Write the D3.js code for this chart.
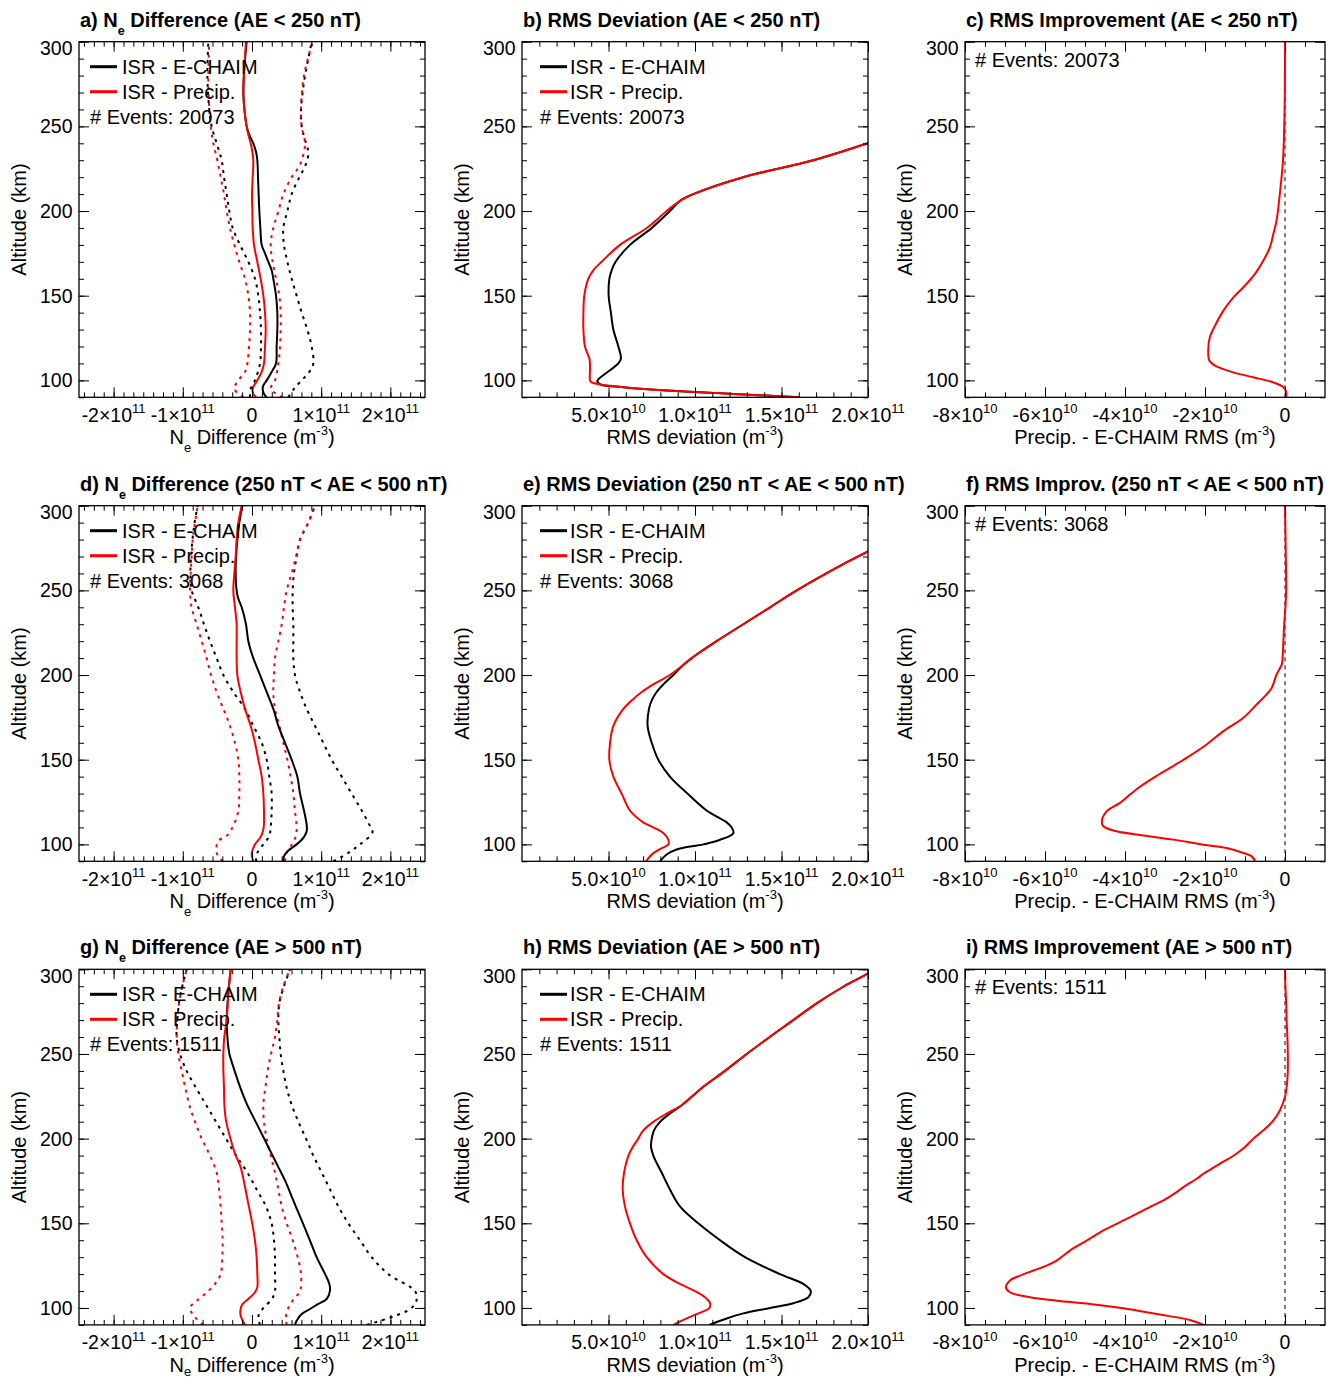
<!DOCTYPE html>
<html><head><meta charset="utf-8">
<script src="https://cdn.jsdelivr.net/npm/d3@7"></script>
<style>
body{margin:0;background:#fff}
svg{display:block}
text{font-family:"Liberation Sans",Arial,Helvetica,sans-serif;fill:#000}
</style>
</head><body>
<svg id="chart" width="1338" height="1380"></svg>
<script>
// ---------------- DATA (values in units of 1e10 m^-3; altitude in km) ----------------
const ALT_MAJOR = [100,150,200,250,300];
const ALT_MINOR = d3.range(90, 301, 10);
const DIFF_TICKS = [-20,-10,0,10,20];
const DIFF_TICK_LABELS = [["-2×10","11"],["-1×10","11"],["0",""],["1×10","11"],["2×10","11"]];
const RMS_TICKS = [5,10,15,20];
const RMS_TICK_LABELS = [["5.0×10","10"],["1.0×10","11"],["1.5×10","11"],["2.0×10","11"]];
const IMP_TICKS = [-8,-6,-4,-2,0];
const IMP_TICK_LABELS = [["-8×10","10"],["-6×10","10"],["-4×10","10"],["-2×10","10"],["0",""]];
const EVENTS = ["20073","3068","1511"];

// Panel a: Ne difference, AE < 250 nT
const aEchaim = [[90,2.12],[92,1.73],[95,1.54],[97,1.64],[100,2.12],[105,2.84],[110,3.47],[120,3.56],[130,3.66],[140,3.66],[150,3.47],[160,3.08],[165,2.84],[170,2.36],[175,1.88],[180,1.40],[190,1.21],[200,1.06],[210,0.96],[220,0.87],[230,0.77],[235,0.58],[240,0.19],[245,-0.39],[250,-0.77],[260,-1.1],[270,-1.25],[285,-1.1],[300,-0.77]];
const aPrecip = [[90,0.58],[92,0.19],[95,0.10],[97,0.29],[100,0.77],[105,1.40],[110,1.73],[120,1.88],[130,1.98],[140,1.88],[150,1.64],[160,1.25],[170,0.77],[180,0.29],[190,0.10],[200,0.05],[210,0.0],[220,0.10],[230,0.19],[235,0.05],[240,-0.19],[245,-0.53],[250,-0.77],[260,-1.1],[270,-1.25],[285,-1.1],[300,-0.87]];
const aEchaimLo = [[90,-0.29],[95,-0.19],[100,0.43],[110,1.16],[120,1.30],[130,1.30],[140,1.16],[150,0.92],[160,0.43],[170,-0.53],[180,-1.73],[190,-2.79],[200,-3.28],[210,-3.66],[220,-4.05],[230,-4.38],[240,-5.11],[250,-5.83],[260,-6.17],[280,-6.45],[300,-6.31]];
const aEchaimHi = [[90,5.25],[95,6.07],[100,7.18],[105,8.29],[110,8.86],[120,8.62],[130,7.99],[140,7.18],[150,6.45],[160,5.73],[170,5.11],[180,4.62],[190,4.53],[200,5.11],[210,5.73],[220,6.84],[225,7.51],[230,7.99],[235,8.14],[240,7.80],[250,7.18],[260,7.08],[270,7.32],[280,7.66],[290,8.14],[300,8.62]];
const aPrecipLo = [[90,-1.25],[95,-2.55],[100,-1.97],[105,-1.01],[110,-0.67],[120,-0.43],[130,-0.29],[140,-0.29],[150,-0.53],[160,-1.01],[170,-1.83],[180,-2.55],[190,-3.18],[200,-3.66],[210,-4.05],[220,-4.53],[230,-5.01],[240,-5.59],[250,-5.97],[260,-6.17],[280,-6.31],[300,-6.17]];
const aPrecipHi = [[90,4.43],[95,2.70],[100,3.32],[110,3.81],[120,4.05],[130,4.14],[140,4.14],[150,3.95],[160,3.47],[170,2.99],[180,2.70],[190,3.08],[200,3.81],[210,4.53],[220,5.73],[225,6.6],[230,7.18],[240,7.66],[250,7.18],[260,7.08],[280,7.51],[300,8.77]];

// Panel b: RMS deviation, AE < 250 nT
const bEchaim = [[90,16.07],[91,14.14],[92.5,11.25],[94,8.36],[96,5.86],[97.5,4.55],[99.5,4.35],[101,4.45],[106,5.09],[110,5.57],[113,5.72],[120,5.57],[130,5.28],[140,5.14],[150,5.01],[160,5.05],[165,5.18],[170,5.41],[180,6.24],[190,7.50],[200,8.55],[206,9.13],[210,9.90],[220,12.79],[230,16.84],[240,20.0],[245,21.6]];
const bPrecip = [[90,16.07],[91,14.14],[92.5,11.25],[94,8.36],[96,5.86],[97.5,4.55],[99,4.0],[100,3.93],[106,3.93],[110,3.93],[113,3.89],[120,3.64],[130,3.55],[140,3.55],[150,3.60],[160,3.83],[165,4.12],[170,4.60],[180,5.66],[190,7.21],[200,8.36],[206,9.13],[210,9.90],[220,12.79],[230,16.84],[240,20.0],[245,21.6]];

// Panel c: RMS improvement, AE < 250 nT
const cImprove = [[90,0.03],[93,0.03],[96,-0.04],[98.8,-0.29],[101.8,-0.79],[104.7,-1.29],[108.7,-1.75],[111.6,-1.89],[117.5,-1.92],[125.4,-1.88],[132.3,-1.75],[141.2,-1.54],[149,-1.29],[155,-1.04],[162.9,-0.75],[170.8,-0.54],[178.7,-0.375],[186.6,-0.29],[194.5,-0.21],[210,-0.13],[230,-0.05],[260,-0.01],[300,0]];

// Panel d: Ne difference, 250 < AE < 500 nT
const dEchaim = [[90,4.53],[93,4.62],[96.4,5.25],[100,6.45],[103.8,7.42],[107.7,7.90],[111.6,7.90],[120,7.51],[130,6.94],[140,6.55],[150,5.73],[160,4.77],[170,3.81],[180,3.08],[190,2.12],[200,1.16],[210,0.19],[220,-0.53],[230,-0.87],[240,-1.49],[245,-1.97],[250,-2.22],[260,-2.36],[270,-2.31],[280,-2.12],[290,-1.83],[300,-1.40]];
const dPrecip = [[90,0.19],[94,-0.05],[97,0.10],[100,0.43],[104,1.2],[108,1.6],[112,1.73],[120,1.73],[130,1.64],[140,1.40],[150,0.92],[160,0.43],[170,-0.19],[180,-1.01],[190,-1.64],[200,-2.12],[210,-2.22],[220,-2.22],[230,-2.22],[240,-2.46],[250,-2.70],[260,-2.55],[270,-2.36],[280,-2.22],[290,-1.97],[300,-1.49]];
const dEchaimLo = [[90,0.58],[95,0.77],[100,1.64],[105,2.50],[110,2.70],[120,2.84],[130,2.84],[140,2.50],[150,2.12],[160,1.40],[170,0.19],[180,-1.01],[190,-2.70],[200,-4.14],[210,-5.11],[220,-6.07],[230,-6.94],[240,-7.76],[250,-8.72],[260,-8.9],[270,-8.8],[280,-8.6],[290,-8.3],[300,-7.85]];
const dEchaimHi = [[90,11.75],[95,13.92],[100,15.61],[107,17.4],[110,17.15],[120,15.85],[130,14.40],[140,12.96],[150,11.51],[160,10.3],[170,9.10],[180,7.90],[190,6.94],[200,6.21],[210,5.97],[220,5.97],[230,5.97],[240,5.88],[250,5.88],[260,6.07],[270,6.45],[280,6.94],[290,8.14],[300,9.10]];
const dPrecipLo = [[90,-4.24],[95,-5.11],[102,-4.87],[105,-3.66],[111,-2.70],[120,-1.97],[130,-1.83],[140,-1.83],[150,-1.97],[160,-2.46],[170,-3.18],[180,-4.14],[190,-5.11],[200,-5.92],[210,-6.55],[220,-7.27],[230,-8.0],[240,-8.72],[250,-8.96],[260,-8.86],[270,-8.72],[280,-8.57],[290,-8.24],[300,-7.85]];
const dPrecipHi = [[90,4.77],[95,5.01],[100,5.73],[105,6.36],[110,6.45],[120,6.21],[130,5.97],[140,5.59],[150,5.11],[160,4.53],[170,3.95],[180,3.32],[190,3.08],[200,3.18],[210,3.32],[220,3.81],[230,4.29],[240,4.62],[250,5.01],[260,5.73],[270,6.36],[280,6.94],[290,8.14],[300,9.10]];

// Panel e: RMS deviation, 250 < AE < 500 nT
const eEchaim = [[90,7.98],[94,8.36],[97,8.94],[100,10.48],[102.7,11.45],[106.7,12.22],[110,12.12],[113,11.83],[120,10.67],[130,9.56],[140,8.55],[150,7.88],[160,7.50],[170,7.26],[180,7.34],[185,7.50],[190,7.78],[194.5,8.17],[200,8.75],[206,9.33],[210,9.81],[220,11.25],[230,12.79],[240,14.34],[250,15.88],[265.5,18.57],[273,20.0],[280,21.3]];
const ePrecip = [[90,7.17],[94,7.50],[97,7.94],[100,8.46],[102.7,8.46],[106.7,8.17],[110,7.59],[113,7.01],[120,6.24],[130,5.76],[140,5.28],[150,5.05],[160,5.09],[170,5.28],[180,5.86],[185,6.34],[190,6.92],[194.5,7.59],[200,8.55],[206,9.33],[210,9.81],[220,11.25],[230,12.79],[240,14.34],[250,15.88],[265.5,18.57],[273,20.0],[280,21.3]];

// Panel f: RMS improvement, 250 < AE < 500 nT
const fImprove = [[90,-0.75],[92.9,-0.83],[94.9,-1.04],[97.8,-1.46],[99.8,-2.04],[102.8,-2.79],[105.3,-3.54],[107.7,-4.21],[110.7,-4.54],[113.6,-4.58],[119.5,-4.46],[124.5,-4.125],[129.4,-3.875],[133.3,-3.67],[139.3,-3.29],[145.2,-2.875],[151.1,-2.46],[159,-1.96],[166.9,-1.54],[174.8,-1.04],[182.6,-0.71],[188.6,-0.46],[192.5,-0.33],[200.4,-0.21],[206.3,-0.08],[210.3,-0.06],[220,-0.04],[230,-0.02],[240,0.01],[250,0.03],[270,0.02],[300,0]];

// Panel g: Ne difference, AE > 500 nT
const gEchaim = [[90,6.21],[92.5,6.45],[96.4,7.18],[99.4,8.38],[102.4,9.59],[105.3,10.79],[110.3,11.27],[114.2,11.18],[120.1,10.55],[130,9.34],[139.8,8.38],[151.7,7.18],[163.5,5.97],[175.3,4.77],[183.2,3.81],[191.1,2.84],[201,1.64],[210.8,0.43],[220.7,-0.77],[230.6,-1.73],[242.4,-2.70],[250.3,-3.28],[260.2,-3.56],[270,-3.66],[285.8,-3.42],[300,-3.08]];
const gPrecip = [[90,-1.01],[95.5,-1.64],[99.4,-1.64],[102.4,-1.35],[105.3,-0.53],[109.3,0.43],[112.2,0.77],[120.1,0.77],[130,0.67],[139.8,0.43],[151.7,-0.05],[161.5,-0.53],[171.4,-1.01],[183.2,-1.64],[191.1,-2.46],[201,-3.18],[210.8,-3.76],[220.7,-4.0],[230.6,-4.05],[240.4,-4.14],[250.3,-4.14],[260.2,-4.0],[270,-3.66],[285.8,-3.42],[300,-3.08]];
const gEchaimLo = [[90,1.16],[95,0.92],[100,1.64],[105,2.84],[110,3.32],[120,3.32],[130,3.32],[140,3.18],[150,2.84],[160,2.02],[170,0.67],[180,-0.67],[190,-2.31],[200,-3.76],[210,-5.20],[220,-6.65],[230,-8.09],[240,-9.44],[250,-10.40],[260,-10.89],[270,-10.79],[280,-10.55],[290,-10.07],[300,-9.44]];
const gEchaimHi = [[90,16.57],[95,20.42],[100,23.07],[105,23.80],[110,23.55],[120,19.70],[130,17.29],[140,15.61],[150,13.92],[160,12.48],[170,11.27],[180,10.07],[190,8.86],[200,7.80],[210,6.70],[220,5.73],[230,5.01],[240,4.53],[250,4.14],[260,3.95],[270,3.81],[280,3.95],[290,4.62],[300,5.49]];
const gPrecipLo = [[90,-7.03],[95,-8.33],[100,-8.96],[105,-7.76],[110,-6.31],[115,-5.20],[120,-4.53],[130,-4.29],[140,-4.24],[150,-4.38],[160,-4.53],[170,-4.77],[180,-5.11],[190,-6.07],[200,-7.27],[210,-8.24],[220,-9.06],[230,-9.63],[240,-10.16],[250,-10.65],[260,-10.89],[270,-10.79],[280,-10.55],[290,-10.07],[300,-9.44]];
const gPrecipHi = [[90,5.01],[95,4.91],[100,5.25],[105,5.97],[110,6.94],[120,7.08],[130,6.60],[140,5.88],[150,5.01],[160,4.29],[170,3.81],[180,3.32],[190,2.70],[200,2.12],[210,1.73],[220,1.64],[230,1.93],[240,2.26],[250,2.75],[260,3.32],[270,3.66],[280,3.90],[290,4.53],[300,5.49]];

// Panel h: RMS deviation, AE > 500 nT
const hEchaim = [[90,10.83],[93.8,11.83],[96.8,12.79],[100,14.34],[102.8,15.68],[106.3,16.55],[110,16.69],[114.2,16.26],[120,14.91],[130,12.89],[140,11.45],[150,10.19],[160,9.13],[170,8.55],[180,8.07],[190,7.59],[195.1,7.46],[200,7.50],[204.9,7.63],[209.9,7.98],[214.8,8.55],[219.7,9.23],[224.7,9.81],[230.6,10.48],[240,11.73],[250,12.99],[260.2,14.34],[270,15.68],[279.9,17.03],[289.7,18.57],[297.6,20.0],[302,20.6]];
const hPrecip = [[90,8.75],[93.8,9.52],[96.8,10.19],[100,10.83],[102.8,10.87],[106.3,10.58],[110,10.0],[114.2,9.13],[120,8.17],[130,7.21],[140,6.63],[150,6.24],[160,5.95],[170,5.82],[180,5.90],[190,6.15],[195.1,6.40],[200,6.72],[204.9,7.01],[209.9,7.59],[214.8,8.36],[219.7,9.23],[224.7,9.81],[230.6,10.48],[240,11.73],[250,12.99],[260.2,14.34],[270,15.68],[279.9,17.03],[289.7,18.57],[297.6,20.0],[302,20.6]];

// Panel i: RMS improvement, AE > 500 nT
const iImprove = [[89.6,-2.0],[92.9,-2.375],[96.4,-3.21],[99.8,-4.04],[102.4,-4.875],[104.3,-5.71],[106.3,-6.375],[109.3,-6.875],[112.2,-6.975],[116.2,-6.875],[119.1,-6.625],[122.1,-6.29],[125,-5.96],[128,-5.71],[133.9,-5.375],[139.8,-4.96],[145.8,-4.54],[150.7,-4.125],[155.6,-3.71],[159.6,-3.375],[163.5,-3.04],[168.4,-2.71],[171.4,-2.54],[176.3,-2.21],[179.9,-2.0],[185.2,-1.625],[189.9,-1.29],[195.1,-1.0],[200,-0.79],[204.9,-0.54],[210.8,-0.29],[216.8,-0.125],[224.7,0],[230,0.04],[240,0.07],[250,0.07],[260,0.06],[270,0.04],[280,0.03],[290,0.01],[300,0]];

// ---------------- LAYOUT ----------------
const colX = [79, 522, 965];
const colW = [346, 346, 360];
const rowY = [41.7, 505.7, 969.3];
const plotH = 355.6;
const RED = "#ff0000";

const diffSeries = (lo1, hi1, lo2, hi2, m1, m2) => [
  {d: lo1, c: "#000", dot: true}, {d: hi1, c: "#000", dot: true},
  {d: lo2, c: RED, dot: true}, {d: hi2, c: RED, dot: true},
  {d: m1, c: "#000"}, {d: m2, c: RED}
];
const diffTitle = (l, rest) => [[l + ") N"], ["e", "sub"], [" Difference " + rest]];

const panels = [
  {r:0,c:0,type:"diff",title:diffTitle("a","(AE < 250 nT)"),series:diffSeries(aEchaimLo,aEchaimHi,aPrecipLo,aPrecipHi,aEchaim,aPrecip)},
  {r:0,c:1,type:"rms",title:[["b) RMS Deviation (AE < 250 nT)"]],series:[{d:bEchaim,c:"#000"},{d:bPrecip,c:RED}]},
  {r:0,c:2,type:"imp",title:[["c) RMS Improvement (AE < 250 nT)"]],series:[{d:cImprove,c:RED}]},
  {r:1,c:0,type:"diff",title:diffTitle("d","(250 nT < AE < 500 nT)"),series:diffSeries(dEchaimLo,dEchaimHi,dPrecipLo,dPrecipHi,dEchaim,dPrecip)},
  {r:1,c:1,type:"rms",title:[["e) RMS Deviation (250 nT < AE < 500 nT)"]],series:[{d:eEchaim,c:"#000"},{d:ePrecip,c:RED}]},
  {r:1,c:2,type:"imp",title:[["f) RMS Improv. (250 nT < AE < 500 nT)"]],series:[{d:fImprove,c:RED}]},
  {r:2,c:0,type:"diff",title:diffTitle("g","(AE > 500 nT)"),series:diffSeries(gEchaimLo,gEchaimHi,gPrecipLo,gPrecipHi,gEchaim,gPrecip)},
  {r:2,c:1,type:"rms",title:[["h) RMS Deviation (AE > 500 nT)"]],series:[{d:hEchaim,c:"#000"},{d:hPrecip,c:RED}]},
  {r:2,c:2,type:"imp",title:[["i) RMS Improvement (AE > 500 nT)"]],series:[{d:iImprove,c:RED}]}
];

const axisCfg = {
  diff: {domain:[-25,25], ticks:DIFF_TICKS, labels:DIFF_TICK_LABELS,
         minor:d3.range(-17,18).map(i=>i*10/7).filter(v=>v>-25&&v<25),
         xtitle:[["N"],["e","sub"],[" Difference (m"],["-3","sup"],[")"]]},
  rms: {domain:[0,20], ticks:RMS_TICKS, labels:RMS_TICK_LABELS, minor:d3.range(1,20,1),
        xtitle:[["RMS deviation (m"],["-3","sup"],[")"]]},
  imp: {domain:[-8,1], ticks:IMP_TICKS, labels:IMP_TICK_LABELS, minor:d3.range(-7.5,1,0.5),
        xtitle:[["Precip. - E-CHAIM RMS (m"],["-3","sup"],[")"]]}
};

function rich(sel, parts, subSize, subShift, supShift) {
  let cur = 0;
  parts.forEach(([t, k]) => {
    const target = k === "sub" ? subShift : (k === "sup" ? -supShift : 0);
    const ts = sel.append("tspan").text(t).attr("dy", target - cur);
    if (k) ts.attr("font-size", subSize);
    cur = target;
  });
}

const svg = d3.select("#chart");

panels.forEach((p, idx) => {
  const X0 = colX[p.c], Y0 = rowY[p.r], w = colW[p.c], h = plotH;
  const cfg = axisCfg[p.type];
  const g = svg.append("g").attr("transform", `translate(${X0},${Y0})`);
  const x = d3.scaleLinear().domain(cfg.domain).range([0, w]);
  const y = d3.scaleLinear().domain([90, 300]).range([h, 0]);

  const cid = "clip" + idx;
  svg.append("defs").append("clipPath").attr("id", cid)
    .append("rect").attr("x", 0).attr("y", 0).attr("width", w).attr("height", h);

  const plotG = g.append("g").attr("clip-path", `url(#${cid})`);
  if (p.type === "imp") {
    plotG.append("line").attr("x1", x(0)).attr("x2", x(0)).attr("y1", y(90)).attr("y2", y(300))
      .attr("stroke", "#555").attr("stroke-width", 1.5).attr("stroke-dasharray", "4,4");
  }

  const line = d3.line().x(d => x(d[1])).y(d => y(d[0])).curve(d3.curveCatmullRom.alpha(0.5));
  p.series.forEach(s => {
    plotG.append("path").attr("d", line(s.d)).attr("fill", "none")
      .attr("stroke", s.c).attr("stroke-width", 2)
      .attr("stroke-dasharray", s.dot ? "3,5" : null);
  });

  const tickSet = (axisFn, scale, vals, size, tr) => {
    const ax = axisFn(scale).tickValues(vals).tickSizeInner(size).tickSizeOuter(0).tickFormat("");
    const s = g.append("g").attr("transform", tr).call(ax);
    s.select(".domain").remove();
    s.selectAll("text").remove();
    s.selectAll("line").attr("stroke", "#000").attr("stroke-width", 1);
  };
  tickSet(d3.axisBottom, x, cfg.minor, -5, `translate(0,${h})`);
  tickSet(d3.axisBottom, x, cfg.ticks, -10, `translate(0,${h})`);
  tickSet(d3.axisTop, x, cfg.minor, -5, `translate(0,0)`);
  tickSet(d3.axisTop, x, cfg.ticks, -10, `translate(0,0)`);
  tickSet(d3.axisLeft, y, ALT_MINOR, -5, `translate(0,0)`);
  tickSet(d3.axisLeft, y, ALT_MAJOR, -10, `translate(0,0)`);
  tickSet(d3.axisRight, y, ALT_MINOR, -5, `translate(${w},0)`);
  tickSet(d3.axisRight, y, ALT_MAJOR, -10, `translate(${w},0)`);

  g.append("rect").attr("x", 0).attr("y", 0).attr("width", w).attr("height", h)
    .attr("fill", "none").attr("stroke", "#000").attr("stroke-width", 1.3);

  ALT_MAJOR.forEach(v => {
    g.append("text").attr("x", -6.5).attr("y", y(v) + (v === 300 ? 13.5 : 7))
      .attr("text-anchor", "end").attr("font-size", 19.5).text(v);
  });
  cfg.ticks.forEach((v, i) => {
    const [base, sup] = cfg.labels[i];
    const t = g.append("text").attr("x", x(v)).attr("y", h + 24.4)
      .attr("text-anchor", "middle").attr("font-size", 19.5);
    rich(t, sup ? [[base], [sup, "sup"]] : [[base]], 13, 0, 8.7);
  });

  g.append("text").attr("transform", `translate(-53,${h/2}) rotate(-90)`)
    .attr("text-anchor", "middle").attr("font-size", 20).text("Altitude (km)");
  const lastRow = p.r === 2;
  const xt = g.append("text").attr("x", w/2).attr("y", h + 47)
    .attr("text-anchor", "middle").attr("font-size", 20);
  rich(xt, cfg.xtitle, 13, lastRow ? 4.5 : 7.5, 9);

  const tt = g.append("text").attr("x", 1).attr("y", -15).attr("font-size", 20).attr("font-weight", "bold");
  rich(tt, p.title, 12.5, 8, 8);

  if (p.type !== "imp") {
    const off = p.c === 0 ? 11 : 18;
    const txt = p.c === 0 ? 43 : 48;
    [["ISR - E-CHAIM", "#000"], ["ISR - Precip.", RED]].forEach(([lab, col], k) => {
      g.append("line").attr("x1", off).attr("x2", off + 27).attr("y1", 25 + 25*k).attr("y2", 25 + 25*k)
        .attr("stroke", col).attr("stroke-width", 3);
      g.append("text").attr("x", txt).attr("y", 32 + 25*k).attr("font-size", 20).text(lab);
    });
    g.append("text").attr("x", off).attr("y", 82).attr("font-size", 20).text("# Events: " + EVENTS[p.r]);
  } else {
    g.append("text").attr("x", 10).attr("y", 25).attr("font-size", 20).text("# Events: " + EVENTS[p.r]);
  }
});
</script>
</body></html>
